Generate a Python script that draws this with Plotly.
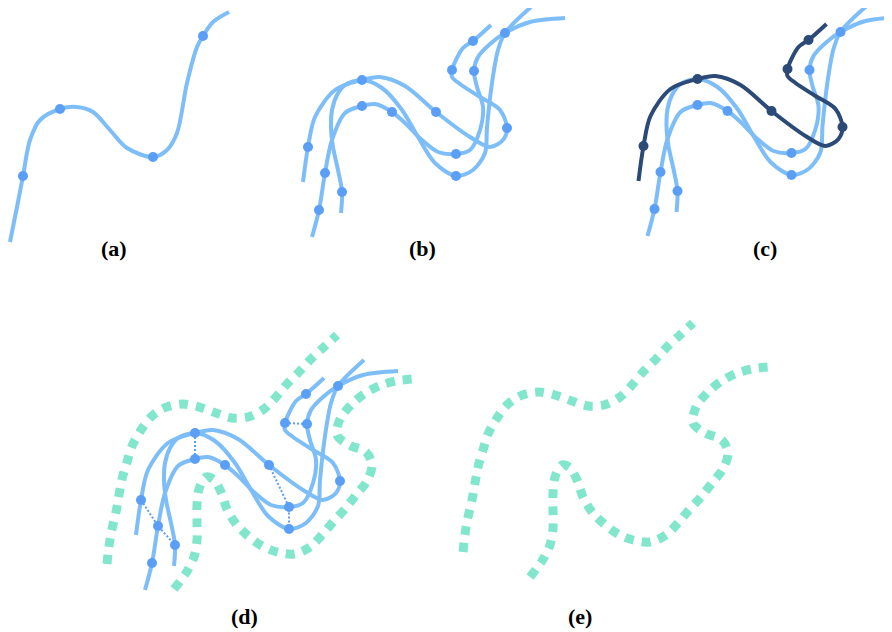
import plotly.graph_objects as go

# ---------------- data (curve control points, pixel-like units) ----------------
# panel (a) single curve
a_curve_x = [10, 17, 23, 30, 40, 60, 77, 93, 110, 127, 153, 167, 177, 187, 197, 203, 213, 229]
a_curve_y = [242, 207, 176, 140, 120, 109, 107, 112, 130, 148, 157, 150, 133, 83, 47, 36, 22, 12]
a_dots_x = [23, 60, 153, 203]
a_dots_y = [176, 109, 157, 36]

# base set of three curves (panel b frame)
c1_x = [303, 308, 315, 335, 362, 380, 405, 436, 470, 490, 503, 507, 500, 480, 460, 452, 452, 463, 473, 491]
c1_y = [182, 147, 117, 90, 80, 77, 86, 112, 137, 147, 140, 128, 110, 97, 84, 77, 70, 48, 41, 25]
c1_dots_x = [308, 362, 436, 507, 452, 473]
c1_dots_y = [147, 80, 112, 128, 70, 41]

c2_x = [312, 319, 325, 332, 345, 362, 375, 392, 405, 422, 438, 456, 470, 480, 483, 477, 474, 478, 490, 505, 530, 565]
c2_y = [237, 210, 173, 140, 113, 106, 104, 112, 123, 140, 152, 154, 150, 130, 107, 87, 71, 57, 44, 33, 22, 18]
c2_dots_x = [319, 325, 362, 392, 456, 474, 505]
c2_dots_y = [210, 173, 106, 112, 154, 71, 33]

c3_x = [341, 342, 338, 333, 331, 332, 337, 345, 362, 382, 402, 418, 435, 456, 473, 485, 487, 492, 498, 505, 531]
c3_y = [213, 192, 170, 147, 127, 110, 95, 85, 80, 88, 110, 137, 163, 176, 170, 153, 127, 83, 50, 33, 7]
c3_dots_x = [342, 456]
c3_dots_y = [192, 176]

# correspondence links (panel d)
links = [
    ([308, 325, 342], [147, 173, 192]),
    ([362, 362], [80, 106]),
    ([436, 456, 456], [112, 154, 176]),
    ([452, 474], [70, 71]),
]

# teal boundary curves (panel e frame)
t1_x = [463, 465, 468, 472, 475, 478, 483, 488, 497, 507, 520, 538, 555, 572, 588, 604, 620, 632, 643, 656, 667, 680, 693]
t1_y = [552, 534, 517, 500, 483, 467, 450, 434, 418, 405, 396, 392, 395, 401, 406, 405, 397, 385, 372, 359, 347, 335, 323]
t2_x = [530, 542, 550, 553, 553, 553, 555, 562, 570, 577, 583, 592, 603, 618, 633, 650, 666, 678, 689, 701, 712, 723, 728, 722, 705, 693, 696, 707, 720, 735, 752, 768]
t2_y = [577, 561, 545, 528, 512, 493, 477, 465, 468, 480, 497, 512, 523, 534, 540, 542, 535, 523, 510, 497, 483, 469, 453, 440, 433, 423, 407, 393, 382, 374, 369, 367]

labels = ["(a)", "(b)", "(c)", "(d)", "(e)"]

# ---------------- style ----------------
LIGHT = "#7dbdf8"
DOT = "#5a9ef6"
DARK = "#2b4a78"
TEAL = "#82e6cd"

fig = go.Figure()


def curve(xs, ys, dx=0, dy=0, color=LIGHT, width=4, dash="solid", smooth=0.9):
    fig.add_trace(go.Scatter(
        x=[v + dx for v in xs], y=[v + dy for v in ys], mode="lines",
        line=dict(color=color, width=width, dash=dash, shape="spline", smoothing=smooth),
        hoverinfo="skip", showlegend=False))


def dots(xs, ys, dx=0, dy=0, color=DOT, size=10):
    fig.add_trace(go.Scatter(
        x=[v + dx for v in xs], y=[v + dy for v in ys], mode="markers",
        marker=dict(color=color, size=size, line=dict(width=0)),
        hoverinfo="skip", showlegend=False))


# panel (a)
curve(a_curve_x, a_curve_y)
dots(a_dots_x, a_dots_y)

# panel (b)
for cx, cy in [(c1_x, c1_y), (c2_x, c2_y), (c3_x, c3_y)]:
    curve(cx, cy)
for dxs, dys in [(c1_dots_x, c1_dots_y), (c2_dots_x, c2_dots_y), (c3_dots_x, c3_dots_y)]:
    dots(dxs, dys)

# panel (c)
cdx, cdy = 335.5, -1
curve(c2_x, c2_y, cdx, cdy)
curve(c3_x, c3_y, cdx, cdy)
dots(c2_dots_x, c2_dots_y, cdx, cdy)
dots(c3_dots_x, c3_dots_y, cdx, cdy)
curve(c1_x, c1_y, cdx, cdy, color=DARK)
dots(c1_dots_x, c1_dots_y, cdx, cdy, color=DARK)

# panel (d)
ddx, ddy = -167, 353
tdx, tdy = -356, 12
curve(t1_x, t1_y, tdx, tdy, color=TEAL, width=9, dash="9px,8px")
curve(t2_x, t2_y, tdx, tdy, color=TEAL, width=9, dash="9px,8px")
for cx, cy in [(c1_x, c1_y), (c2_x, c2_y), (c3_x, c3_y)]:
    curve(cx, cy, ddx, ddy)
for lx, ly in links:
    fig.add_trace(go.Scatter(
        x=[v + ddx for v in lx], y=[v + ddy for v in ly], mode="lines",
        line=dict(color=DOT, width=2, dash="2px,2px"), hoverinfo="skip", showlegend=False))
for dxs, dys in [(c1_dots_x, c1_dots_y), (c2_dots_x, c2_dots_y), (c3_dots_x, c3_dots_y)]:
    dots(dxs, dys, ddx, ddy)

# panel (e)
curve(t1_x, t1_y, color=TEAL, width=9, dash="9px,8px")
curve(t2_x, t2_y, color=TEAL, width=9, dash="9px,8px")

# labels
label_pos = [(114, 248), (422, 248), (765, 248), (244, 616), (580, 616)]
for txt, (lx, ly) in zip(labels, label_pos):
    fig.add_annotation(x=lx, y=ly, text="<b>%s</b>" % txt, showarrow=False,
                       font=dict(family="Liberation Serif", size=22, color="black"),
                       xanchor="center", yanchor="middle")

# the page body adds an 8px margin, so the axes start at 8 to keep page pixels aligned
fig.update_layout(
    width=892, height=632, margin=dict(l=0, r=0, t=0, b=0),
    paper_bgcolor="white", plot_bgcolor="white",
    xaxis=dict(range=[8, 900], visible=False, fixedrange=True),
    yaxis=dict(range=[640, 8], visible=False, fixedrange=True),
)
fig.write_html("out.html")
